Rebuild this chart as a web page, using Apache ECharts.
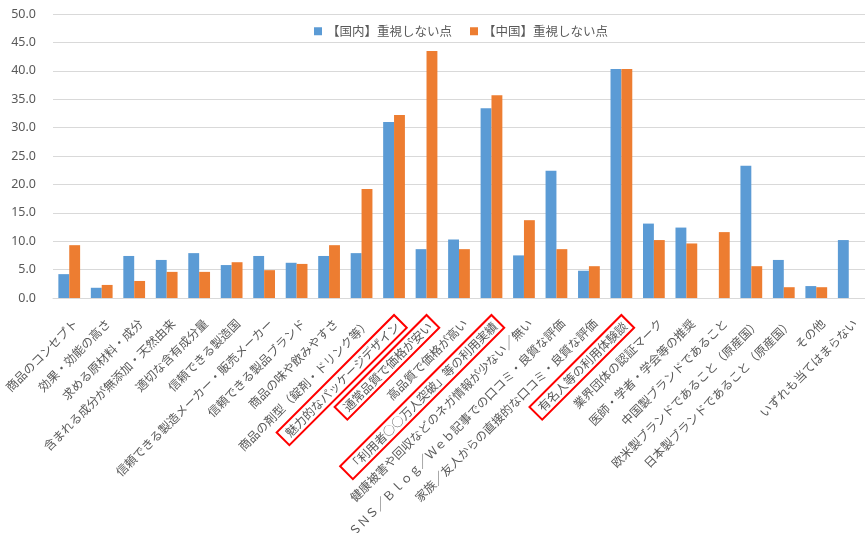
<!DOCTYPE html>
<html>
<head>
<meta charset="utf-8">
<script src="https://cdn.jsdelivr.net/npm/echarts@6/dist/echarts.min.js"></script>
<style>
html,body{margin:0;padding:0;background:#fff;}
#chart{width:865px;height:533px;}
</style>
</head>
<body>
<div id="chart"></div>
<script>
const categories = [
  '商品のコンセプト',
  '効果・効能の高さ',
  '求める原材料・成分',
  '含まれる成分が無添加・天然由来',
  '適切な含有成分量',
  '信頼できる製造国',
  '信頼できる製造メーカー・販売メーカー',
  '信頼できる製品ブランド',
  '商品の味や飲みやすさ',
  '商品の剤型（錠剤・ドリンク等）',
  '魅力的なパッケージデザイン',
  '通常品質で価格が安い',
  '高品質で価格が高い',
  '「利用者○○万人突破」等の利用実績',
  '健康被害や回収などのネガ情報が少ない／無い',
  'ＳＮＳ／Ｂｌｏｇ／Ｗｅｂ記事での口コミ・良質な評価',
  '家族／友人からの直接的な口コミ・良質な評価',
  '有名人等の利用体験談',
  '業界団体の認証マーク',
  '医師・学者・学会等の推奨',
  '中国製ブランドであること',
  '欧米製ブランドであること（原産国）',
  '日本製ブランドであること（原産国）',
  'その他',
  'いずれも当てはまらない'
];
const highlighted = [
  '魅力的なパッケージデザイン',
  '通常品質で価格が安い',
  '「利用者○○万人突破」等の利用実績',
  '有名人等の利用体験談'
];
const seriesNames = ['【国内】重視しない点', '【中国】重視しない点'];
const domestic = [4.2,1.8,7.4,6.7,7.9,5.8,7.4,6.2,7.4,7.9,31.0,8.6,10.3,33.4,7.5,22.4,4.8,40.3,13.1,12.4,0,23.3,6.7,2.1,10.2];
const china    = [9.3,2.3,3.0,4.6,4.6,6.3,4.9,6.0,9.3,19.2,32.2,43.5,8.6,35.7,13.7,8.6,5.6,40.3,10.2,9.6,11.6,5.6,1.9,1.9,0];
const yTicks = {min: 0, max: 50, interval: 5};

const FONT = '"Noto Sans CJK JP", "Noto Sans", sans-serif';
const chart = echarts.init(document.getElementById('chart'), null, {renderer: 'canvas'});
chart.setOption({
  backgroundColor: '#ffffff',
  animation: false,
  textStyle: {fontFamily: FONT},
  legend: {
    data: seriesNames,
    left: 309,
    top: 20,
    itemWidth: 8,
    itemHeight: 8,
    itemGap: 18,
    icon: 'rect',
    textStyle: {fontSize: 12.5, color: '#595959', fontFamily: FONT}
  },
  grid: {left: 53, right: 0, top: 14, bottom: 235, containLabel: false, outerBoundsMode: 'none'},
  xAxis: {
    type: 'category',
    data: categories,
    axisLine: {show: true, lineStyle: {color: '#d9d9d9', width: 1}},
    axisTick: {show: false},
    axisLabel: {
      interval: 0,
      rotate: 45,
      margin: 17,
      padding: [18, 0, 0, 0],
      fontSize: 12,
      color: '#595959',
      fontFamily: FONT,
      formatter: function (v) {
        return highlighted.indexOf(v) >= 0 ? '{box|' + v + '}' : v;
      },
      rich: {
        box: {
          borderColor: '#ff0000',
          borderWidth: 2,
          padding: [3, 4, 3, 6],
          fontSize: 12,
          color: '#595959',
          fontFamily: FONT
        }
      }
    }
  },
  yAxis: {
    type: 'value',
    min: yTicks.min,
    max: yTicks.max,
    interval: yTicks.interval,
    axisLine: {show: false},
    axisTick: {show: false},
    splitLine: {lineStyle: {color: '#d9d9d9', width: 1}},
    axisLabel: {
      margin: 17,
      fontSize: 12.5,
      color: '#595959',
      fontFamily: '"Noto Sans", sans-serif',
      formatter: function (v) { return v.toFixed(1); }
    }
  },
  series: [
    {
      name: seriesNames[0],
      type: 'bar',
      data: domestic,
      barGap: '0%',
      barCategoryGap: '33%',
      itemStyle: {color: '#5b9bd5'}
    },
    {
      name: seriesNames[1],
      type: 'bar',
      data: china,
      barGap: '0%',
      barCategoryGap: '33%',
      itemStyle: {color: '#ed7d31'}
    }
  ]
});
</script>
</body>
</html>
